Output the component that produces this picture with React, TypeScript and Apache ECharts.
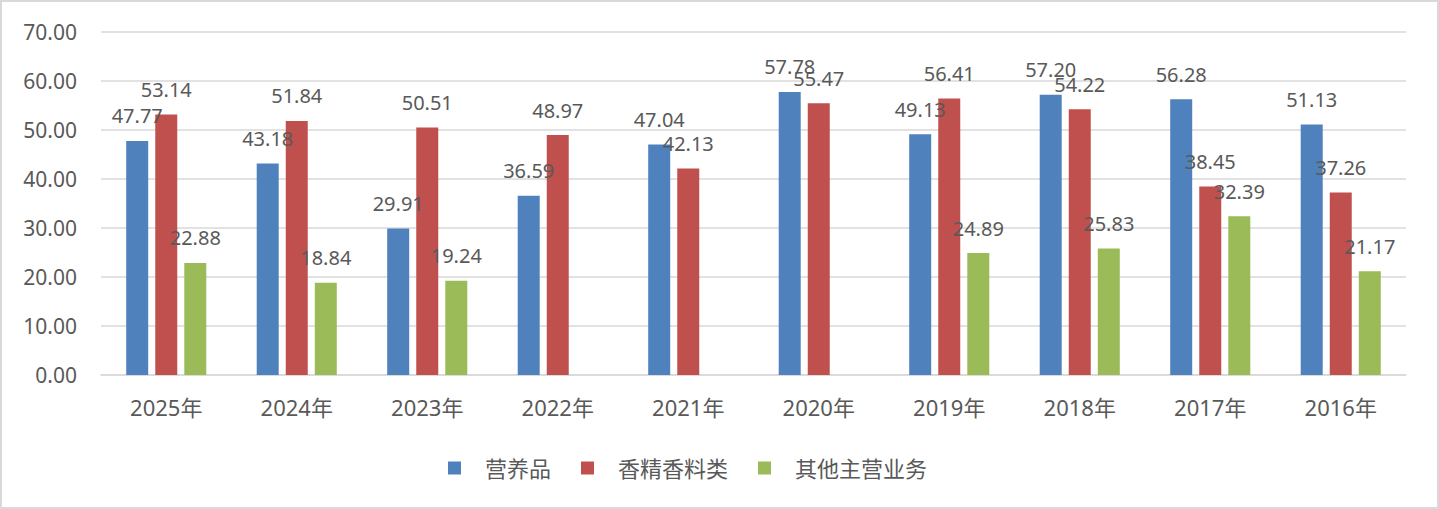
import React, { useEffect, useRef } from 'react';
import * as echarts from 'echarts';

const categories = ['2025年', '2024年', '2023年', '2022年', '2021年', '2020年', '2019年', '2018年', '2017年', '2016年'];
const nutrition = [47.77, 43.18, 29.91, 36.59, 47.04, 57.78, 49.13, 57.2, 56.28, 51.13];
const flavors = [53.14, 51.84, 50.51, 48.97, 42.13, 55.47, 56.41, 54.22, 38.45, 37.26];
const others = [22.88, 18.84, 19.24, null, null, null, 24.89, 25.83, 32.39, 21.17];

const FONT = '"Noto Sans", "Noto Sans CJK SC", sans-serif';
const TEXT = '#595959';

const barLabel = {
  show: true,
  position: 'top',
  distance: 15,
  color: TEXT,
  fontSize: 20,
  fontFamily: FONT,
  formatter: (p: any) => (p.value == null ? '' : Number(p.value).toFixed(2)),
};

export default function App() {
  const chartRef = useRef<HTMLDivElement>(null);

  useEffect(() => {
    document.body.style.margin = '0';
    const myChart = echarts.init(chartRef.current, null, { renderer: 'svg' });
    const option = {
      animation: false,
      color: ['#4F81BD', '#C0504D', '#9BBB59'],
      textStyle: { fontFamily: FONT },
      grid: { left: 99, right: 31, top: 30, bottom: 132 },
      legend: {
        left: 441,
        top: 450,
        itemWidth: 13,
        itemHeight: 13,
        itemGap: 30,
        icon: 'rect',
        textStyle: { color: TEXT, fontSize: 22, fontFamily: FONT, padding: [0, 0, 0, 19] },
        data: ['营养品', '香精香料类', '其他主营业务'],
      },
      xAxis: {
        type: 'category',
        data: categories,
        axisTick: { show: false },
        axisLine: { lineStyle: { color: '#d9d9d9', width: 1.5 } },
        axisLabel: { color: TEXT, fontSize: 22, margin: 21, fontFamily: FONT },
      },
      yAxis: {
        type: 'value',
        min: 0,
        max: 70,
        interval: 10,
        axisLine: { show: false },
        axisTick: { show: false },
        splitLine: { lineStyle: { color: '#d9d9d9', width: 1.5 } },
        axisLabel: {
          color: TEXT,
          fontSize: 21,
          margin: 24,
          fontFamily: FONT,
          formatter: (v: number) => v.toFixed(2),
        },
      },
      series: [
        { name: '营养品', type: 'bar', data: nutrition, barWidth: 22, barGap: '32%', label: barLabel },
        { name: '香精香料类', type: 'bar', data: flavors, barWidth: 22, barGap: '32%', label: barLabel },
        { name: '其他主营业务', type: 'bar', data: others, barWidth: 22, barGap: '32%', label: barLabel },
      ],
    };
    myChart.setOption(option);
    return () => {
      myChart.dispose();
    };
  }, []);

  return (
    <div style={{ width: 1439, height: 509, border: '2px solid #d9d9d9', boxSizing: 'border-box', background: '#fff' }}>
      <div ref={chartRef} style={{ width: 1435, height: 505 }}></div>
    </div>
  );
}
